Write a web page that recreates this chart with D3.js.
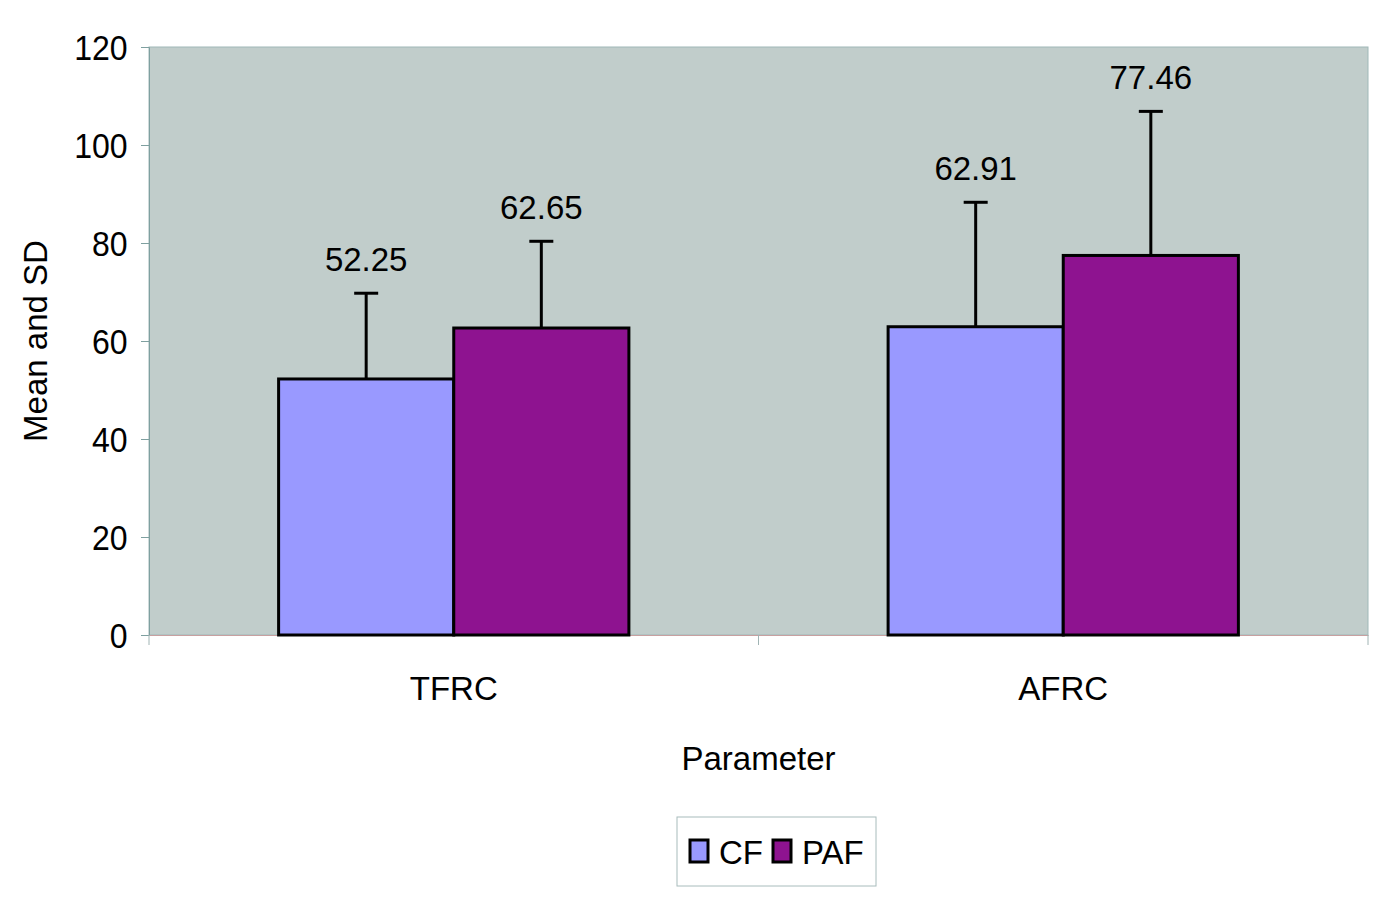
<!DOCTYPE html>
<html><head><meta charset="utf-8">
<script src="https://cdn.jsdelivr.net/npm/d3@7"></script>
<style>
html,body{margin:0;padding:0;background:#fff;}
text{font-family:"Liberation Sans",Arial,sans-serif;fill:#000;}
</style></head>
<body>
<svg id="chart" width="1385" height="903"></svg>
<script>
const categories = ["TFRC", "AFRC"];
const series = ["CF", "PAF"];
const cfMeans = [52.25, 62.91];
const pafMeans = [62.65, 77.46];
const cfSD = [17.5, 25.4];
const pafSD = [17.7, 29.4];
const yTicks = [0, 20, 40, 60, 80, 100, 120];
const colors = {CF: "#9999FF", PAF: "#8E1390"};

const FS = 33;
const svg = d3.select("#chart");
const L = 149, R = 1368, T = 47, B = 635;

const x = d3.scaleBand().domain(categories).range([L, R]).paddingInner(0).paddingOuter(0);
const xs = d3.scaleBand().domain(series).range([0, x.bandwidth()]).paddingInner(0).paddingOuter(0.74);
const y = d3.scaleLinear().domain([0, 120]).range([B, T]);

svg.append("rect").attr("x", L).attr("y", T).attr("width", R - L).attr("height", B - T)
  .attr("fill", "#C1CDCB").attr("stroke", "#9FB8B8").attr("stroke-width", 1);

const yAxis = svg.append("g").attr("transform", `translate(${L},0)`)
  .call(d3.axisLeft(y).tickValues(yTicks).tickSize(8).tickPadding(14));
yAxis.select(".domain").attr("stroke", "#7FA0A0");
yAxis.selectAll(".tick line").attr("stroke", "#7FA0A0");
yAxis.selectAll(".tick text").attr("font-size", FS).attr("dy", "0.36em")
  .attr("transform", "scale(0.97,1.04)")
  .style("font-family", "'Liberation Sans',Arial,sans-serif").attr("fill", "#000");

const xAxis = svg.append("g").attr("transform", `translate(0,${B})`)
  .call(d3.axisBottom(x).tickSize(0).tickPadding(42));
xAxis.select(".domain").attr("stroke", "#C8A0A0");
xAxis.selectAll(".tick text").attr("font-size", FS)
  .style("font-family", "'Liberation Sans',Arial,sans-serif").attr("fill", "#000");
const sepX = [L, x("AFRC"), R];
svg.append("g").selectAll("line").data(sepX).join("line")
  .attr("x1", d => d).attr("x2", d => d).attr("y1", B).attr("y2", B + 10)
  .attr("stroke", "#A0B4B4").attr("stroke-width", 1);

const data = [];
categories.forEach((c, i) => {
  data.push({cat: c, s: "CF", v: cfMeans[i], sd: cfSD[i]});
  data.push({cat: c, s: "PAF", v: pafMeans[i], sd: pafSD[i]});
});

const g = svg.append("g");
const eb = g.selectAll("g.eb").data(data).join("g");
eb.append("line")
  .attr("x1", d => x(d.cat) + xs(d.s) + xs.bandwidth() / 2)
  .attr("x2", d => x(d.cat) + xs(d.s) + xs.bandwidth() / 2)
  .attr("y1", d => y(d.v)).attr("y2", d => y(d.v + d.sd))
  .attr("stroke", "#000").attr("stroke-width", 3);
eb.append("line")
  .attr("x1", d => x(d.cat) + xs(d.s) + xs.bandwidth() / 2 - 12)
  .attr("x2", d => x(d.cat) + xs(d.s) + xs.bandwidth() / 2 + 12)
  .attr("y1", d => y(d.v + d.sd)).attr("y2", d => y(d.v + d.sd))
  .attr("stroke", "#000").attr("stroke-width", 3);

g.selectAll("rect.bar").data(data).join("rect")
  .attr("x", d => x(d.cat) + xs(d.s))
  .attr("y", d => y(d.v))
  .attr("width", xs.bandwidth())
  .attr("height", d => y(0) - y(d.v))
  .attr("fill", d => colors[d.s])
  .attr("stroke", "#000").attr("stroke-width", 3);

g.selectAll("text.lbl").data(data).join("text")
  .attr("x", d => x(d.cat) + xs(d.s) + xs.bandwidth() / 2)
  .attr("y", d => y(d.v + d.sd) - 22)
  .attr("text-anchor", "middle").attr("font-size", FS)
  .text(d => d.v.toFixed(2));

svg.append("text").attr("x", (L + R) / 2).attr("y", 770).attr("text-anchor", "middle")
  .attr("font-size", FS).text("Parameter");
svg.append("text").attr("transform", `translate(47,${(T + B) / 2}) rotate(-90)`)
  .attr("text-anchor", "middle").attr("font-size", FS).text("Mean and SD");

const lg = svg.append("g").attr("transform", "translate(677,817)");
lg.append("rect").attr("width", 199).attr("height", 69).attr("fill", "#fff")
  .attr("stroke", "#A8BCBC").attr("stroke-width", 1);
const items = lg.selectAll("g").data(series).join("g")
  .attr("transform", (d, i) => `translate(${i === 0 ? 13 : 96},0)`);
items.append("rect").attr("x", 0).attr("y", 23).attr("width", 18).attr("height", 22)
  .attr("fill", d => colors[d]).attr("stroke", "#000").attr("stroke-width", 3);
items.append("text").attr("x", 29).attr("y", 47).attr("font-size", FS).text(d => d);
</script>
</body></html>
